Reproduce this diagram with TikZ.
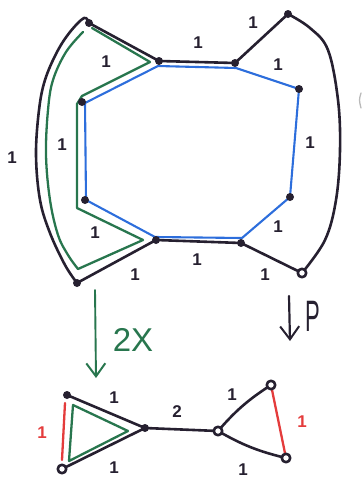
\documentclass[tikz,border=0pt]{standalone}
\usepackage{fontspec}
\setmainfont{Liberation Sans}
\usetikzlibrary{arrows.meta}
\definecolor{ink}{RGB}{38,32,48}
\definecolor{bl}{RGB}{45,110,220}
\definecolor{gr}{RGB}{40,118,78}
\definecolor{rd}{RGB}{228,60,60}
\begin{document}
\begin{tikzpicture}[x=1pt,y=-1pt,line cap=round,line join=round,
  vdot/.style={circle,fill=ink,inner sep=0pt,minimum size=8pt},
  vring/.style={circle,draw=ink,fill=white,line width=2.6pt,inner sep=0pt,minimum size=8.5pt},
  edge/.style={draw=ink,line width=2.6pt},
  blueline/.style={draw=bl,line width=2.1pt},
  greenline/.style={draw=gr,line width=2.3pt},
  redline/.style={draw=rd,line width=2.3pt},
  lbl/.style={font=\fontsize{17}{17}\selectfont\bfseries,text=ink,inner sep=0pt},
  barb/.style={-{Straight Barb[length=13pt,width=19pt,line width=2pt]}}]
\useasboundingbox (0,0) rectangle (363,479);
% top graph vertex positions
\coordinate (A) at (89,23);
\coordinate (B) at (159,61);
\coordinate (C) at (235,63);
\coordinate (D) at (288,14);
\coordinate (E) at (299,89);
\coordinate (F) at (290,197);
\coordinate (G) at (302,273);
\coordinate (H) at (241,243);
\coordinate (I) at (156,240);
\coordinate (J) at (85,200);
\coordinate (K) at (82,102);
\coordinate (L) at (77,283);
% black edges
\draw[edge] (A) -- (B) -- (C) -- (D);
\draw[edge] (G) -- (H) -- (I) -- (L);
\draw[edge] plot[smooth,tension=0.6] coordinates {(D) (310,28) (328,50) (338,100) (340,150) (336,200) (325,240) (G)};
\draw[edge] plot[smooth,tension=0.6] coordinates {(A) (84,18) (70,32) (57,52) (45,80) (39,110) (36,155) (40,200) (50,233) (65,265) (L)};
% green path
\draw[greenline] (92,28) -- (150,62) -- (82,96) -- (77,104) -- (77,208) -- (143,240) -- (78,269);
\draw[greenline] plot[smooth,tension=0.6] coordinates {(78,269) (68,255) (58,235) (50,200) (46,155) (48,110) (53,80) (66,52) (83,32)};
% blue cycle
\coordinate (b1) at (158,66);
\coordinate (b2) at (236,68);
\coordinate (b3) at (242,238);
\coordinate (b4) at (155,237);
\coordinate (b5) at (86,200);
\coordinate (b6) at (85,103);
\draw[blueline] (b1) -- (b2) -- (E) -- (F) -- (b3) -- (b4) -- (b5) -- (b6) -- cycle;
% vertex dots
\foreach \v in {A,B,C,D,E,F,H,I,J,K,L}{\node[vdot] (v\v) at (\v) {};}
\node[vring] (vG) at (G) {};
% top labels
\node[lbl] (l1) at (106,62) {1};
\node[lbl] (l2) at (198,43) {1};
\node[lbl] (l3) at (253,23) {1};
\node[lbl] (l4) at (278,65) {1};
\node[lbl] (l5) at (310,143) {1};
\node[lbl] (l6) at (278,227) {1};
\node[lbl] (l7) at (265,275) {1};
\node[lbl] (l8) at (197,260) {1};
\node[lbl] (l9) at (135,275) {1};
\node[lbl] (l10) at (95,233) {1};
\node[lbl] (l11) at (62,145) {1};
\node[lbl] (l12) at (12,158) {1};
% cut-off mark at right edge
\draw[gray!55,line width=1.3pt] (361,93) .. controls (359,100) .. (361,108);
% arrows
\coordinate (ga1) at (95,290);
\coordinate (ga2) at (96,378);
\draw[draw=gr,line width=1.9pt,barb] (ga1) -- (ga2);
\node[text=gr,font=\fontsize{33}{33}\selectfont,inner sep=0pt] (twox) at (133,340) {2X};
\coordinate (pa1) at (289,296);
\coordinate (pa2) at (290,341);
\draw[draw=ink,line width=2.2pt,barb] (pa1) -- (pa2);
\node[text=ink,font=\fontsize{44}{44}\selectfont,inner sep=0pt,xscale=0.5] (pl) at (313,316) {P};
% bottom graph
\coordinate (P1) at (67,395);
\coordinate (P2) at (62,469);
\coordinate (P3) at (145,428);
\coordinate (P4) at (218,431);
\coordinate (P5) at (271,385);
\coordinate (P6) at (286,458);
\draw[redline] (65,403) -- (62,460);
\draw[redline] (P5) -- (P6);
\draw[greenline] (73,405) -- (128,431) -- (69,461) -- cycle;
\draw[edge] (P1) -- (P3) -- (P2);
\draw[edge] (P3) -- (P4);
\draw[edge] (P4) to[bend left=8] (P5);
\draw[edge] (P4) to[bend right=8] (P6);
\node[vdot] (vP1) at (P1) {};
\node[vring] (vP2) at (P2) {};
\node[vdot] (vP3) at (P3) {};
\node[vring] (vP4) at (P4) {};
\node[vring] (vP5) at (P5) {};
\node[vring] (vP6) at (P6) {};
\node[lbl] (m1) at (114,398) {1};
\node[lbl] (m2) at (114,468) {1};
\node[lbl,text=rd] (m3) at (42,433) {1};
\node[lbl] (m4) at (177,412) {2};
\node[lbl] (m5) at (232,395) {1};
\node[lbl] (m6) at (243,470) {1};
\node[lbl,text=rd] (m7) at (302,422) {1};
\end{tikzpicture}
\end{document}
